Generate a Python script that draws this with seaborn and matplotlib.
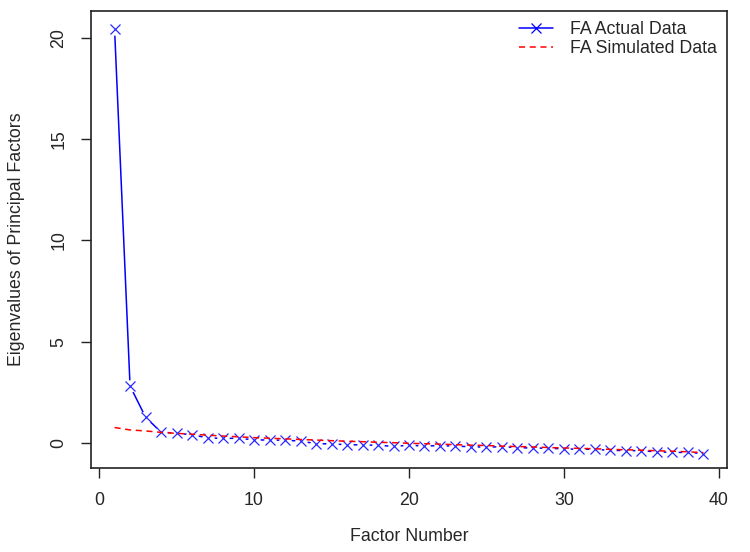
import numpy as np
import pandas as pd
import matplotlib
matplotlib.use("Agg")
import matplotlib.pyplot as plt
from matplotlib.lines import Line2D
import seaborn as sns

# eigenvalues
factor_number = list(range(1, 40))
fa_actual = [20.45, 2.81, 1.27, 0.53, 0.48, 0.40, 0.25, 0.22, 0.23, 0.15,
             0.14, 0.13, 0.09, -0.04, -0.05, -0.09, -0.10, -0.12, -0.17, -0.12,
             -0.15, -0.14, -0.16, -0.19, -0.21, -0.19, -0.23, -0.26, -0.26, -0.30,
             -0.31, -0.32, -0.37, -0.38, -0.39, -0.44, -0.47, -0.47, -0.53]
fa_simulated = [0.76, 0.64, 0.59, 0.52, 0.47, 0.43, 0.38, 0.34, 0.30, 0.26,
                0.23, 0.20, 0.17, 0.14, 0.11, 0.08, 0.06, 0.03, 0.01, -0.02,
                -0.04, -0.06, -0.09, -0.11, -0.13, -0.16, -0.18, -0.20, -0.23, -0.25,
                -0.27, -0.29, -0.32, -0.34, -0.36, -0.39, -0.41, -0.44, -0.48]
x_ticks = [0, 10, 20, 30, 40]
y_ticks = [0, 5, 10, 15, 20]

sns.set_style("ticks")
plt.rcParams['font.family'] = ['Liberation Sans', 'DejaVu Sans']
FS = 12.8

df = pd.DataFrame({"factor": factor_number, "actual": fa_actual, "sim": fa_simulated})

fig = plt.figure(figsize=(7.5, 5.52), dpi=100)
ax = fig.add_axes([91 / 750, 1 - 468 / 552, (727 - 91) / 750, (468 - 11) / 552])

# R type="b": line with gaps around the points
sns.lineplot(data=df, x="factor", y="actual", color="blue", lw=1.1, ax=ax, zorder=2)
ax.scatter(df["factor"], df["actual"], s=80, color="white", zorder=3, linewidths=0)
sns.lineplot(data=df, x="factor", y="actual", color="blue", lw=0, marker="x",
             markersize=7.5, markeredgewidth=0.9, markeredgecolor="#2a2aff", ax=ax, zorder=4)
sns.lineplot(data=df, x="factor", y="sim", color="red", lw=1.1, ax=ax, zorder=5)
ax.lines[-1].set_dashes([4, 3])

handles = [Line2D([], [], color="blue", lw=1.1, marker="x", markersize=7, markeredgewidth=0.9),
           Line2D([], [], color="red", lw=1.1, dashes=[4, 3])]
ax.legend(handles, ["FA Actual Data", "FA Simulated Data"], loc="upper right",
          frameon=False, fontsize=FS, handlelength=1.9, handletextpad=1.0,
          borderaxespad=0.15, borderpad=0.4, labelspacing=0.12)

ax.set_xlim(-0.52, 40.52)
ax.set_ylim(-1.24, 21.33)
ax.set_xticks(x_ticks)
ax.set_yticks(y_ticks)
ax.set_yticklabels([str(v) for v in y_ticks], rotation=90, va="center")
ax.tick_params(direction="out", length=7, width=1, labelsize=FS, pad=10, color="#222222")
for s in ax.spines.values():
    s.set_linewidth(1.2)
    s.set_color("#222222")

ax.set_xlabel("Factor Number", fontsize=FS, labelpad=14)
ax.set_ylabel("Eigenvalues of Principal Factors", fontsize=FS, labelpad=18)

fig.savefig("out.png", dpi=100)
